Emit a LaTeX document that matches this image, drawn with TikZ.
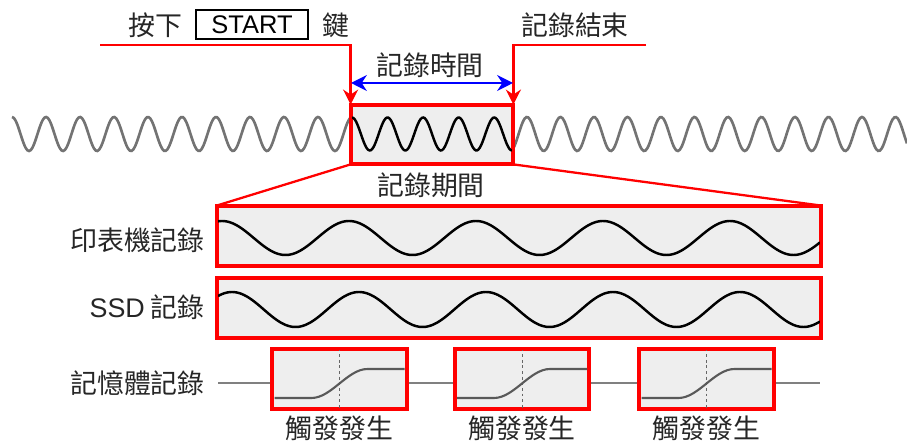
\documentclass[tikz,border=0pt]{standalone}
\usepackage{fontspec}
\setmainfont{Liberation Sans}
\newfontfamily\cjk{Noto Sans CJK TC}
\usetikzlibrary{arrows.meta}
\begin{document}
\begin{tikzpicture}[x=0.02cm, y=-0.02cm,
        lbl/.style={font=\cjk\fontsize{15.3}{18}\selectfont, inner sep=0pt, text=black!85},
        keybox/.style={draw, line width=1.1pt, minimum width=2.24cm, minimum height=0.58cm, inner sep=0pt, font=\fontsize{14.5}{17}\selectfont},
        winbox/.style={draw=red, line width=1.6pt, fill=gray!13, inner sep=0pt, minimum width=3.2cm, minimum height=1.14cm},
        recbox/.style={draw=red, line width=1.6pt, fill=gray!13, inner sep=0pt, minimum width=12.04cm, minimum height=1.16cm},
        trigbox/.style={draw=red, line width=1.6pt, fill=gray!13, inner sep=0pt, minimum width=2.66cm, minimum height=1.16cm},
        redarrow/.style={draw=red, line width=1.5pt, -{Stealth[length=8.5pt, width=8.5pt]}},
        zoomline/.style={draw=red, line width=1.3pt},
        spanarrow/.style={draw=blue, line width=1.4pt, {Stealth[length=9pt, width=9pt]}-{Stealth[length=9pt, width=9pt]}},
        graywave/.style={draw=black!55, line width=1.5pt},
        blackwave/.style={draw=black, line width=1.4pt},
        memline/.style={draw=black!50, line width=0.7pt},
        stepcurve/.style={draw=black!65, line width=1.2pt},
        marker/.style={draw=black!60, line width=0.5pt, dash pattern=on 1.6pt off 1.6pt}
    ]
        \path[use as bounding box] (0, 0) rectangle (907, 445);

        \node[lbl] (press) at (155, 25) {按下};
        \node[keybox] (start) at (252, 24.5) {START};
        \node[lbl] (key) at (335.5, 25) {鍵};
        \node[lbl] (stop) at (575, 25) {記錄結束};

        \coordinate (pressL) at (100, 45);
        \coordinate (stopR) at (646, 45);

        \draw[graywave] plot[domain=12:352, samples=200, smooth] (\x, {134 - 17*cos((\x-12)*(360/34))});
        \draw[graywave] plot[domain=512:907, samples=220, smooth] (\x, {134 - 17*cos((\x-527)*(360/33.5))});

        \node[winbox] (win) at (432, 134.5) {};
        \draw[blackwave] plot[domain=352:512, samples=120, smooth] (\x, {134 - 16.5*cos((\x-352)*(360/35.56))});
        \draw[winbox, fill=none] (win.north west) rectangle (win.south east);

        \draw[redarrow] (pressL) -| (win.north west);
        \draw[redarrow] (stopR) -| (win.north east);

        \node[lbl] (span) at (430, 65) {記錄時間};
        \coordinate (spanL) at (351, 83);
        \coordinate (spanR) at (513, 83);
        \draw[spanarrow] (spanL) -- (spanR);

        \node[lbl] (period) at (431, 185) {記錄期間};

        \node[recbox] (prn) at (519, 236) {};
        \node[recbox] (ssd) at (519, 308) {};
        \draw[zoomline] (win.south west) -- (prn.north west);
        \draw[zoomline] (win.south east) -- (prn.north east);

        \draw[blackwave] plot[domain=218:820, samples=300, smooth] (\x, {238 - 17*cos((\x-222)*(360/127))});
        \draw[blackwave] plot[domain=218:820, samples=300, smooth] (\x, {309.5 - 17.5*cos((\x-232)*(360/127))});
        \draw[recbox, fill=none] (prn.north west) rectangle (prn.south east);
        \draw[recbox, fill=none] (ssd.north west) rectangle (ssd.south east);

        \node[lbl, anchor=east] (prnlbl) at (205, 240) {印表機記錄};
        \node[lbl, anchor=east] (ssdlbl) at (205, 307) {{\fontspec{Liberation Sans}SSD} 記錄};
        \node[lbl, anchor=east] (memlbl) at (205, 383) {記憶體記錄};

        \coordinate (memL) at (218, 383);
        \coordinate (memR) at (820, 383);
        \draw[memline] (memL) -- (memR);

        \foreach \cx/\nm in {339.5/trigA, 522/trigB, 706.5/trigC} {
            \node[trigbox] (\nm) at (\cx, 379) {};
            \draw[marker] (\nm.north) -- (\nm.south);
            \draw[stepcurve] ({\cx-65}, 398) -- ({\cx-28}, 398) .. controls ({\cx-8}, 398) and ({\cx+8}, 369) .. ({\cx+28}, 369) -- ({\cx+65}, 369);
            \draw[trigbox, fill=none] (\nm.north west) rectangle (\nm.south east);
            \node[lbl] (\nm lbl) at (\cx, 428) {觸發發生};
        }
    \end{tikzpicture}
\end{document}
